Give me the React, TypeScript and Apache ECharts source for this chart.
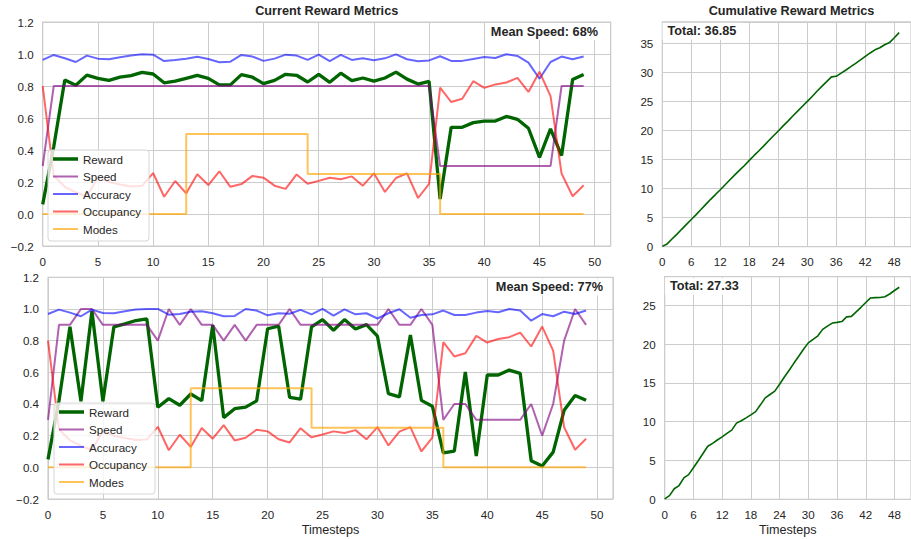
import React, { useEffect, useRef } from 'react';
import * as echarts from 'echarts';

// ---------- data ----------
const rewardA = [0.06, 0.42, 0.838, 0.805, 0.868, 0.848, 0.835, 0.855, 0.865, 0.885, 0.875, 0.82, 0.83, 0.848, 0.866, 0.848, 0.807, 0.807, 0.871, 0.855, 0.815, 0.835, 0.873, 0.867, 0.825, 0.873, 0.823, 0.88, 0.833, 0.85, 0.83, 0.85, 0.887, 0.843, 0.812, 0.829, 0.093, 0.542, 0.542, 0.571, 0.581, 0.581, 0.61, 0.592, 0.536, 0.354, 0.532, 0.365, 0.84, 0.872];
const speedA = [0.3, 0.8, 0.8, 0.8, 0.8, 0.8, 0.8, 0.8, 0.8, 0.8, 0.8, 0.8, 0.8, 0.8, 0.8, 0.8, 0.8, 0.8, 0.8, 0.8, 0.8, 0.8, 0.8, 0.8, 0.8, 0.8, 0.8, 0.8, 0.8, 0.8, 0.8, 0.8, 0.8, 0.8, 0.8, 0.8, 0.3, 0.3, 0.3, 0.3, 0.3, 0.3, 0.3, 0.3, 0.3, 0.3, 0.3, 0.8, 0.8, 0.8];
const accuracyA = [0.963, 0.994, 0.973, 0.95, 0.99, 0.971, 0.967, 0.979, 0.99, 0.998, 0.996, 0.956, 0.963, 0.971, 0.983, 0.969, 0.948, 0.952, 0.994, 0.984, 0.957, 0.971, 0.996, 0.99, 0.963, 0.996, 0.955, 0.994, 0.963, 0.973, 0.961, 0.973, 0.998, 0.967, 0.955, 0.96, 0.986, 0.957, 0.957, 0.969, 0.981, 0.975, 0.998, 0.988, 0.946, 0.845, 0.95, 0.984, 0.967, 0.984];

const rewardB = [0.05, 0.42, 0.887, 0.417, 0.986, 0.417, 0.887, 0.906, 0.927, 0.937, 0.379, 0.434, 0.392, 0.463, 0.421, 0.898, 0.314, 0.37, 0.38, 0.42, 0.875, 0.892, 0.442, 0.43, 0.887, 0.933, 0.866, 0.933, 0.874, 0.901, 0.828, 0.465, 0.445, 0.835, 0.423, 0.386, 0.092, 0.103, 0.602, 0.071, 0.583, 0.583, 0.614, 0.593, 0.042, 0.008, 0.096, 0.36, 0.453, 0.423];
const speedB = [0.3, 0.9, 0.9, 1.0, 1.0, 0.9, 0.9, 0.9, 0.9, 0.9, 0.8, 1.0, 0.9, 1.0, 0.9, 0.9, 0.8, 0.9, 0.8, 0.9, 0.9, 0.9, 1.0, 0.9, 0.9, 0.9, 0.9, 0.9, 0.9, 0.9, 0.9, 1.0, 0.9, 0.9, 1.0, 0.9, 0.3, 0.4, 0.4, 0.3, 0.3, 0.3, 0.3, 0.3, 0.4, 0.2, 0.4, 0.8, 1.0, 0.9];
const accuracyB = [0.968, 0.996, 0.977, 0.954, 0.996, 0.975, 0.973, 0.985, 0.996, 1.0, 1.0, 0.964, 0.968, 0.983, 0.985, 0.973, 0.954, 0.956, 1.0, 0.99, 0.96, 0.973, 0.97, 0.994, 0.966, 1.0, 0.958, 0.998, 0.966, 0.973, 0.94, 0.973, 0.998, 0.945, 0.962, 0.966, 0.99, 0.962, 0.962, 0.977, 0.987, 0.979, 1.0, 0.99, 0.926, 0.968, 0.954, 0.983, 0.968, 0.99];

const occupancy = [0.8, 0.24, 0.17, 0.135, 0.11, 0.23, 0.2, 0.185, 0.172, 0.176, 0.256, 0.108, 0.206, 0.129, 0.248, 0.181, 0.267, 0.17, 0.187, 0.238, 0.227, 0.177, 0.157, 0.247, 0.189, 0.207, 0.227, 0.217, 0.235, 0.177, 0.254, 0.138, 0.225, 0.254, 0.1, 0.188, 0.79, 0.7, 0.72, 0.83, 0.788, 0.81, 0.822, 0.851, 0.763, 0.889, 0.737, 0.253, 0.111, 0.18];
const modes = [0, 0, 0, 0, 0, 0, 0, 0, 0, 0, 0, 0, 0, 0.5, 0.5, 0.5, 0.5, 0.5, 0.5, 0.5, 0.5, 0.5, 0.5, 0.5, 0.25, 0.25, 0.25, 0.25, 0.25, 0.25, 0.25, 0.25, 0.25, 0.25, 0.25, 0.25, 0, 0, 0, 0, 0, 0, 0, 0, 0, 0, 0, 0, 0, 0];

const metricNames = ['Reward', 'Speed', 'Accuracy', 'Occupancy', 'Modes'];
const totalLabelA = '36.85';
const totalLabelB = '27.33';

const leftXTicks = 5;
const rightXTicks = 6;

// ---------- styling ----------
const FONT = 'Liberation Sans, Arial, sans-serif';
const TEXT = '#262626';
const GRIDC = '#cccccc';

const toPairs = (arr: number[]) => arr.map((v, i) => [i, v]);
const cumsum = (arr: number[]) => {
  let s = 0;
  return arr.map((v) => (s += v));
};
const meanPct = (arr: number[]) => Math.round((arr.reduce((a, b) => a + b, 0) / arr.length) * 100);

// legend icon: horizontal bar of given thickness centred in a 25x12 box
const barIcon = (t: number) => {
  const y0 = 6 - t / 2;
  const y1 = 6 + t / 2;
  return `path://M0,0L25,0M0,12L25,12M0,${y0}L25,${y0}L25,${y1}L0,${y1}Z`;
};

export default function App() {
  const ref = useRef<HTMLDivElement>(null);
  useEffect(() => {
    const chart = echarts.init(ref.current!, null, { renderer: 'svg' });

    const grids = [
      { left: 42.7, top: 22, width: 568, height: 224 },
      { left: 48, top: 277.3, width: 565, height: 221.7 },
      { left: 662.3, top: 21.9, width: 258.3, height: 224.8 },
      { left: 664.7, top: 276.7, width: 256.7, height: 222.6 },
    ].map((g) => ({ ...g, show: true, borderColor: GRIDC, borderWidth: 1.2, backgroundColor: '#fff', containLabel: false }));

    const labelStyle = { color: TEXT, fontSize: 11.6, fontFamily: FONT, margin: 9 };

    const xAxis = [0, 1, 2, 3].map((i) => ({
      type: 'value',
      gridIndex: i,
      min: 0,
      max: 51.45,
      interval: i < 2 ? leftXTicks : rightXTicks,
      axisLine: { show: false },
      axisTick: { show: false },
      splitLine: { show: true, lineStyle: { color: GRIDC, width: 1 } },
      axisLabel: {
        ...labelStyle,
        showMaxLabel: false,
        formatter: (v: number) => (Math.abs(v % (i < 2 ? leftXTicks : rightXTicks)) < 1e-6 ? String(Math.round(v)) : ''),
      },
      name: i % 2 === 1 ? 'Timesteps' : '',
      nameLocation: 'middle',
      nameGap: 24,
      nameTextStyle: { color: TEXT, fontSize: 12.6, fontFamily: FONT },
    }));

    const yAxis = [0, 1, 2, 3].map((i) => ({
      type: 'value',
      gridIndex: i,
      min: i < 2 ? -0.2 : 0,
      max: i < 2 ? 1.2 : i === 2 ? 38.69 : 28.7,
      interval: i < 2 ? 0.2 : 5,
      axisLine: { show: false },
      axisTick: { show: false },
      splitLine: { show: true, lineStyle: { color: GRIDC, width: 1 } },
      axisLabel: {
        ...labelStyle,
        showMaxLabel: i < 2,
        formatter: (v: number) =>
          i < 2 ? (v < -1e-9 ? '\u2212' : '') + Math.abs(v).toFixed(1) : String(Math.round(v)),
      },
    }));

    const styles = [
      { color: '#006400', width: 3.3, opacity: 1 },
      { color: '#800080', width: 2, opacity: 0.62 },
      { color: '#0000ff', width: 2, opacity: 0.6 },
      { color: '#ff0000', width: 2, opacity: 0.6 },
      { color: '#ffa500', width: 2, opacity: 0.65 },
    ];

    const metricSeries = (idx: number, reward: number[], speed: number[], accuracy: number[]) =>
      [reward, speed, accuracy, occupancy, modes].map((arr, k) => ({
        type: 'line',
        name: metricNames[k],
        xAxisIndex: idx,
        yAxisIndex: idx,
        data: toPairs(arr),
        symbol: 'none',
        showSymbol: false,
        step: k === 4 ? 'end' : false,
        color: styles[k].color,
        itemStyle: { color: styles[k].color, opacity: styles[k].opacity },
        lineStyle: { color: styles[k].color, width: styles[k].width, opacity: styles[k].opacity },
        emphasis: { disabled: true },
      }));

    const cumSeries = (idx: number, reward: number[]) => ({
      type: 'line',
      name: 'Cumulative',
      xAxisIndex: idx,
      yAxisIndex: idx,
      data: toPairs(cumsum(reward)),
      symbol: 'none',
      showSymbol: false,
      color: '#006400',
      lineStyle: { color: '#006400', width: 1.6 },
      emphasis: { disabled: true },
    });

    const legendBase = {
      orient: 'vertical',
      itemWidth: 25,
      itemHeight: 12,
      itemGap: 5.5,
      padding: [3, 8, 6, 5],
      backgroundColor: 'rgba(255,255,255,0.8)',
      borderColor: '#d6d6d6',
      borderWidth: 1,
      borderRadius: 3,
      selectedMode: false,
      textStyle: { color: TEXT, fontSize: 11.6, fontFamily: FONT, lineHeight: 12 },
      data: metricNames.map((n, k) => ({
        name: n,
        icon: barIcon(styles[k].width),
        itemStyle: { color: styles[k].color, opacity: styles[k].opacity, borderWidth: 0 },
      })),
    };

    const boldFont = `bold 12.7px ${FONT}`;
    const textEl = (x: number, y: number, text: string, align: string, bg: boolean) => ({
      type: 'text',
      x,
      y,
      z: 100,
      style: {
        text,
        font: boldFont,
        fill: TEXT,
        align,
        textAlign: align,
        verticalAlign: 'middle',
        textVerticalAlign: 'middle',
        ...(bg ? { backgroundColor: 'rgba(255,255,255,0.9)', padding: [2, 6, 2, 5] } : {}),
      },
    });

    chart.setOption({
      animation: false,
      backgroundColor: '#ffffff',
      grid: grids,
      xAxis,
      yAxis,
      legend: [
        { ...legendBase, left: 48, top: 150 },
        { ...legendBase, left: 54, top: 403 },
      ],
      series: [
        ...metricSeries(0, rewardA, speedA, accuracyA),
        ...metricSeries(1, rewardB, speedB, accuracyB),
        cumSeries(2, rewardA),
        cumSeries(3, rewardB),
      ],
      graphic: [
        textEl(326.7, 11, 'Current Reward Metrics', 'center', false),
        textEl(791.5, 11, 'Cumulative Reward Metrics', 'center', false),
        textEl(604, 31.5, `Mean Speed: ${meanPct(speedA)}%`, 'right', true),
        textEl(609, 287, `Mean Speed: ${meanPct(speedB)}%`, 'right', true),
        textEl(662.5, 31.3, `Total: ${totalLabelA}`, 'left', true),
        textEl(664.9, 286.2, `Total: ${totalLabelB}`, 'left', true),
      ],
    });

    return () => chart.dispose();
  }, []);

  return (
    <div
      ref={ref}
      style={{ position: 'fixed', left: 0, top: 0, width: 911, height: 539, background: '#fff', overflow: 'hidden' }}
    />
  );
}
